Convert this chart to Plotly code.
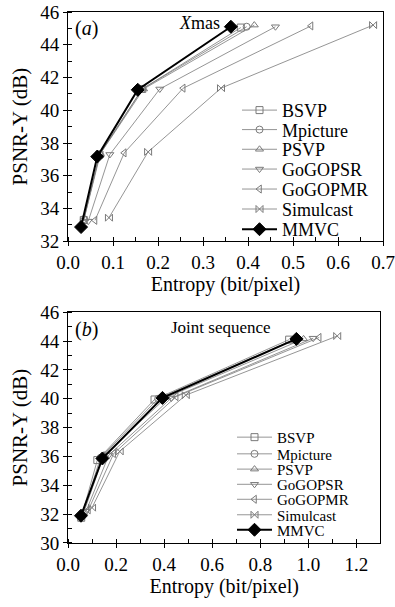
import plotly.graph_objects as go

# ---------------- data ----------------
series_names = ["BSVP", "Mpicture", "PSVP", "GoGOPSR", "GoGOPMR", "Simulcast", "MMVC"]

# Panel (a): Xmas
a_bsvp_x = [0.035, 0.070, 0.165, 0.384]
a_bsvp_y = [33.30, 37.30, 41.30, 45.05]
a_mpic_x = [0.035, 0.070, 0.165, 0.397]
a_mpic_y = [33.35, 37.30, 41.30, 45.10]
a_psvp_x = [0.036, 0.072, 0.168, 0.414]
a_psvp_y = [33.40, 37.35, 41.30, 45.20]
a_gsr_x = [0.045, 0.093, 0.204, 0.461]
a_gsr_y = [33.23, 37.30, 41.30, 45.10]
a_gmr_x = [0.060, 0.125, 0.256, 0.540]
a_gmr_y = [33.28, 37.40, 41.35, 45.15]
a_sim_x = [0.091, 0.178, 0.340, 0.678]
a_sim_y = [33.44, 37.46, 41.35, 45.20]
a_mmvc_x = [0.029, 0.065, 0.155, 0.362]
a_mmvc_y = [32.87, 37.17, 41.25, 45.10]

# Panel (b): Joint sequence
b_bsvp_x = [0.055, 0.122, 0.360, 0.920]
b_bsvp_y = [31.75, 35.75, 39.95, 44.10]
b_mpic_x = [0.058, 0.135, 0.375, 0.940]
b_mpic_y = [31.85, 35.90, 40.00, 44.10]
b_psvp_x = [0.065, 0.150, 0.410, 0.980]
b_psvp_y = [32.10, 36.10, 40.10, 44.15]
b_gsr_x = [0.075, 0.170, 0.430, 1.020]
b_gsr_y = [32.20, 36.10, 40.05, 44.20]
b_gmr_x = [0.085, 0.190, 0.450, 1.045]
b_gmr_y = [32.30, 36.20, 40.15, 44.25]
b_sim_x = [0.100, 0.215, 0.490, 1.120]
b_sim_y = [32.45, 36.35, 40.25, 44.35]
b_mmvc_x = [0.054, 0.143, 0.393, 0.950]
b_mmvc_y = [31.89, 35.86, 40.06, 44.15]

a_x_ticks = [0.0, 0.1, 0.2, 0.3, 0.4, 0.5, 0.6, 0.7]
a_y_ticks = [32, 34, 36, 38, 40, 42, 44, 46]
b_x_ticks = [0.0, 0.2, 0.4, 0.6, 0.8, 1.0, 1.2]
b_y_ticks = [30, 32, 34, 36, 38, 40, 42, 44, 46]

# ---------------- styles ----------------
FONT = "'Liberation Serif', 'Times New Roman', 'DejaVu Serif', serif"
GRAY = "#7a7a7a"
symbols = ["square-open", "circle-open", "triangle-up-open", "triangle-down-open",
           "triangle-left-open", "bowtie-open", "diamond"]

panel_a = [(a_bsvp_x, a_bsvp_y), (a_mpic_x, a_mpic_y), (a_psvp_x, a_psvp_y),
           (a_gsr_x, a_gsr_y), (a_gmr_x, a_gmr_y), (a_sim_x, a_sim_y), (a_mmvc_x, a_mmvc_y)]
panel_b = [(b_bsvp_x, b_bsvp_y), (b_mpic_x, b_mpic_y), (b_psvp_x, b_psvp_y),
           (b_gsr_x, b_gsr_y), (b_gmr_x, b_gmr_y), (b_sim_x, b_sim_y), (b_mmvc_x, b_mmvc_y)]

# page geometry (body margin is removed by the post script, so figure sits at 0,0)
W, H = 395, 607
P_LEFT, P_RIGHT, P_TOP, P_BOTTOM = 68, 383, 11.5, 543   # plot area in page pixels
ML = P_LEFT
MR = W - P_RIGHT
MT = P_TOP
MB = H - P_BOTTOM
PW, PH = W - ML - MR, H - MT - MB


def px_x(p):
    return (p - P_LEFT) / PW


def px_y(p):
    return (P_BOTTOM - p) / PH


fig = go.Figure()

legend_layout = {}
leg_a_y = [110, 129.5, 149.2, 169, 189, 209, 229.2]
leg_b_y = [437.3, 454, 469.3, 484.5, 499.5, 515, 530]

for pi, (panel, xa, ya, legy, legx, lsize) in enumerate([
        (panel_a, "x", "y", leg_a_y, 237, 18),
        (panel_b, "x2", "y2", leg_b_y, 232, 15)]):
    for i, (xs, ys) in enumerate(panel):
        is_mmvc = series_names[i] == "MMVC"
        idx = pi * 7 + i + 1
        lname = "legend" if idx == 1 else f"legend{idx}"
        fig.add_trace(go.Scatter(
            x=xs, y=ys, xaxis=xa, yaxis=ya, name=series_names[i], mode="lines+markers",
            line=dict(color="black" if is_mmvc else GRAY, width=2 if is_mmvc else 0.8),
            marker=dict(symbol=symbols[i], size=10 if is_mmvc else 7,
                        color="black" if is_mmvc else GRAY,
                        line=dict(width=1, color="black" if is_mmvc else GRAY)),
            legend=lname, showlegend=True,
        ))
        legend_layout[lname] = dict(
            x=px_x(legx), y=px_y(legy[i]), xanchor="left", yanchor="middle",
            bgcolor="rgba(0,0,0,0)", borderwidth=0, itemwidth=35,
            font=dict(family=FONT, size=lsize, color="black"),
        )

axis_common = dict(showline=True, linecolor="black", linewidth=1, mirror=True,
                   ticks="outside", ticklen=4, tickcolor="black", showgrid=False,
                   zeroline=False, automargin=False,
                   tickfont=dict(family=FONT, size=19, color="black"))

dom_a = [px_y(241), 1.0]
dom_b = [0.0, px_y(312)]

fig.update_layout(
    width=W, height=H, margin=dict(l=ML, r=MR, t=MT, b=MB, autoexpand=False),
    paper_bgcolor="white", plot_bgcolor="white",
    font=dict(family=FONT, color="black"),
    xaxis=dict(axis_common, domain=[0, 1], anchor="y", range=[0, 0.7],
               tickmode="array", tickvals=a_x_ticks, ticktext=[f"{v:.1f}" for v in a_x_ticks],
               minor=dict(ticks="inside", ticklen=4, tickcolor="black", tick0=0, dtick=0.05),
               title=dict(text="Entropy (bit/pixel)", font=dict(family=FONT, size=20), standoff=4)),
    yaxis=dict(axis_common, domain=dom_a, anchor="x", range=[32, 46],
               tickmode="array", tickvals=a_y_ticks,
               minor=dict(ticks="inside", ticklen=4, tickcolor="black", tick0=0, dtick=1),
               title=dict(text="PSNR-Y (dB)", font=dict(family=FONT, size=21), standoff=6)),
    xaxis2=dict(axis_common, domain=[0, 0.992], anchor="y2", range=[0, 1.3],
                tickmode="array", tickvals=b_x_ticks, ticktext=[f"{v:.1f}" for v in b_x_ticks],
                minor=dict(ticks="inside", ticklen=4, tickcolor="black", tick0=0, dtick=0.1),
                title=dict(text="Entropy (bit/pixel)", font=dict(family=FONT, size=20), standoff=4)),
    yaxis2=dict(axis_common, domain=dom_b, anchor="x2", range=[30, 46],
                tickmode="array", tickvals=b_y_ticks,
                minor=dict(ticks="inside", ticklen=4, tickcolor="black", tick0=0, dtick=1),
                title=dict(text="PSNR-Y (dB)", font=dict(family=FONT, size=21), standoff=6)),
    **legend_layout,
)

annotations = [
    dict(text="(<i>a</i>)", x=px_x(73), y=px_y(28)),
    dict(text="<i>X</i>mas", x=px_x(177), y=px_y(23)),
    dict(text="(<i>b</i>)", x=px_x(73), y=px_y(329)),
    dict(text="Joint sequence", x=px_x(169), y=px_y(327)),
]
for an, sz in zip(annotations, [20, 18, 20, 17]):
    fig.add_annotation(xref="paper", yref="paper", xanchor="left", yanchor="middle",
                       showarrow=False, font=dict(family=FONT, size=sz, color="black"), **an)

fig.write_html("out.html", config={"displayModeBar": False},
               post_script="document.body.style.margin='0px';")
